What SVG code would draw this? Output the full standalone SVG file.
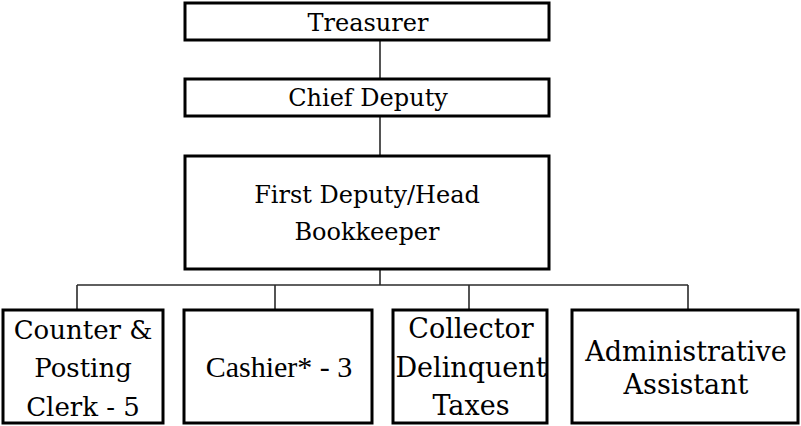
<svg xmlns="http://www.w3.org/2000/svg" width="801" height="426" viewBox="0 0 801 426">
  <style>
    .box { fill: #ffffff; stroke: #000000; stroke-width: 3; }
    .link { fill: none; stroke: #2a2a2a; stroke-width: 1.6; }
    text { font-family: "DejaVu Serif", "Liberation Serif", serif; fill: #000000; text-anchor: middle; }
    .t24 { font-size: 24px; }
    .t26 { font-size: 26px; }
    .t27 { font-size: 27px; }
    .times { font-family: "Liberation Serif", "Times New Roman", serif; font-size: 30px; }
  </style>
  <rect width="801" height="426" fill="#ffffff"/>

  <!-- connectors -->
  <g id="connectors">
    <line class="link" x1="380" y1="40" x2="380" y2="79"/>
    <line class="link" x1="380" y1="116" x2="380" y2="156"/>
    <line class="link" x1="380" y1="269" x2="380" y2="285"/>
    <line class="link" x1="77" y1="285" x2="688" y2="285"/>
    <line class="link" x1="77" y1="285" x2="77" y2="310"/>
    <line class="link" x1="275" y1="285" x2="275" y2="310"/>
    <line class="link" x1="469" y1="285" x2="469" y2="310"/>
    <line class="link" x1="688" y1="285" x2="688" y2="310"/>
  </g>

  <g id="treasurer">
    <rect class="box" x="185" y="3" width="364" height="37"/>
    <text class="t24" x="368" y="31">Treasurer</text>
  </g>

  <g id="chief-deputy">
    <rect class="box" x="185" y="79" width="364" height="37"/>
    <text class="t24" x="368" y="106">Chief Deputy</text>
  </g>

  <g id="first-deputy">
    <rect class="box" x="185" y="156" width="364" height="113"/>
    <text class="t24" x="367" y="203">First Deputy/Head</text>
    <text class="t24" x="367" y="240">Bookkeeper</text>
  </g>

  <g id="counter-posting">
    <rect class="box" x="3" y="310" width="160" height="113"/>
    <text class="t26" x="83" y="339">Counter &amp;</text>
    <text class="t26" x="83" y="377">Posting</text>
    <text class="t26" x="83" y="416">Clerk - 5</text>
  </g>

  <g id="cashier">
    <rect class="box" x="184" y="310" width="188" height="113"/>
    <text class="times" x="279" y="377">Cashier* - 3</text>
  </g>

  <g id="collector">
    <rect class="box" x="393" y="310" width="154" height="113"/>
    <text class="t27" x="471" y="338">Collector</text>
    <text class="t27" x="471" y="377">Delinquent</text>
    <text class="t27" x="471" y="415">Taxes</text>
  </g>

  <g id="admin-assistant">
    <rect class="box" x="572" y="310" width="226" height="113"/>
    <text class="t27" x="686" y="361">Administrative</text>
    <text class="t27" x="686" y="394">Assistant</text>
  </g>
</svg>
